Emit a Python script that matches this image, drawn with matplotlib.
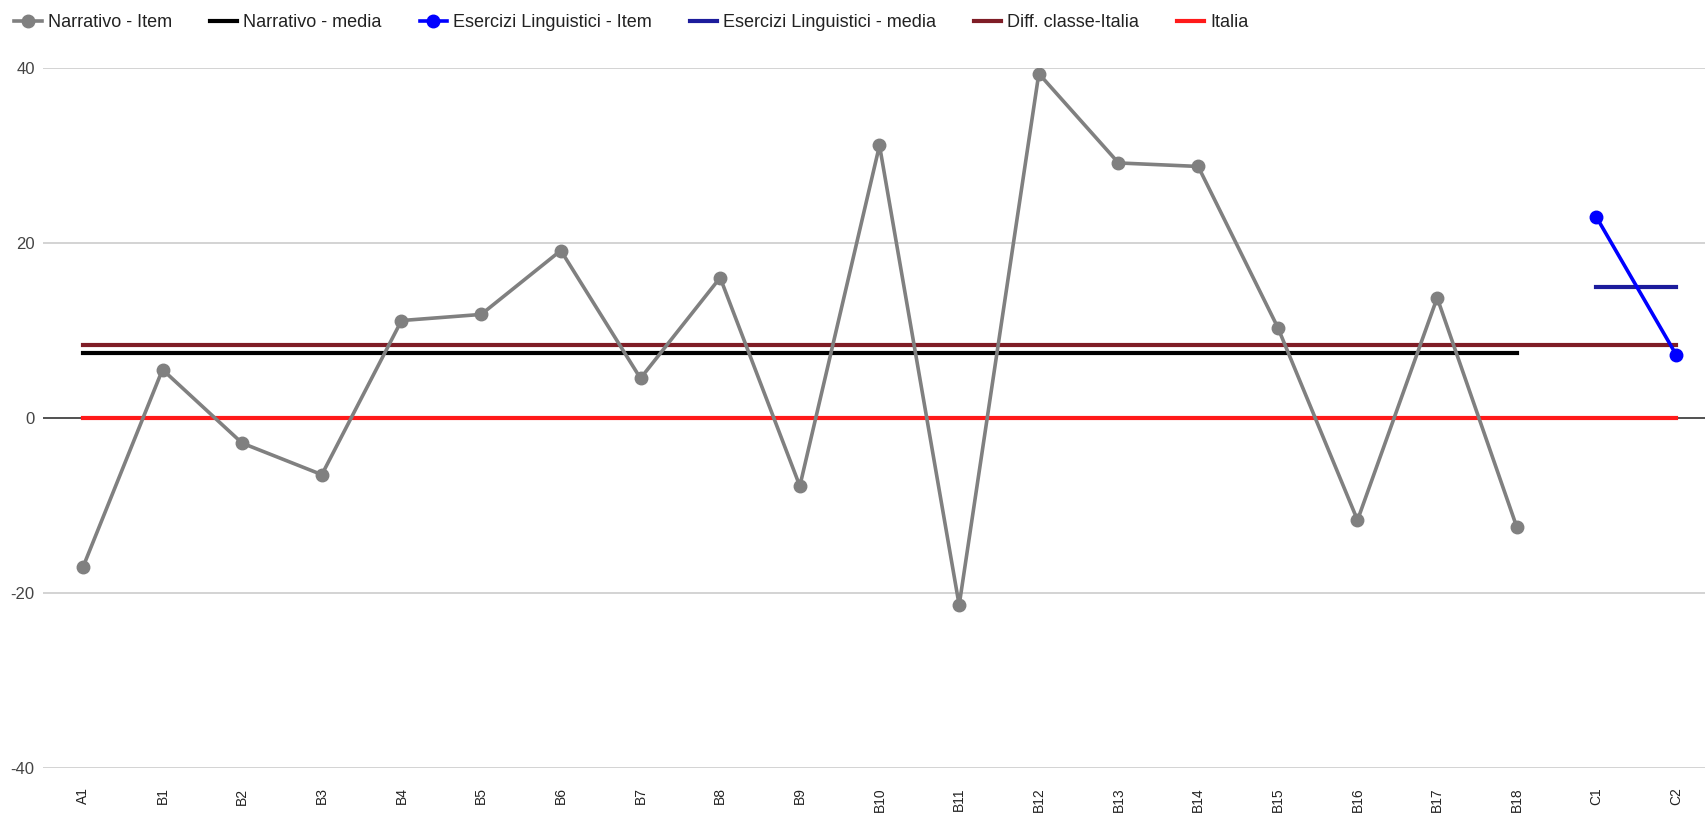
import matplotlib
matplotlib.use("Agg")
import matplotlib.pyplot as plt
import numpy as np

plt.rcParams['font.family'] = ['Liberation Sans', 'DejaVu Sans']

# categories
items = ["A1", "B1", "B2", "B3", "B4", "B5", "B6", "B7", "B8", "B9", "B10",
         "B11", "B12", "B13", "B14", "B15", "B16", "B17", "B18", "C1", "C2"]

# Narrativo - Item (A1..B18)
narrativo = [-17.1, 5.5, -2.9, -6.5, 11.1, 11.8, 19.1, 4.5, 16.0, -7.8, 31.1,
             -21.4, 39.3, 29.1, 28.7, 10.3, -11.7, 13.7, -12.5]
narrativo_media = 7.4

# Esercizi Linguistici - Item (C1, C2)
esercizi = [22.9, 7.2]
esercizi_media = 14.9

diff_classe_italia = 8.3
italia = 0

x = np.arange(len(items))
n_narr = len(narrativo)
x_narr = x[:n_narr]
x_eser = x[n_narr:]

fig = plt.figure(figsize=(17.06, 8.19), dpi=100)
ax = fig.add_axes([43 / 1706, 1 - 768 / 819, 1673 / 1706, (768 - 67.5) / 819])

# grid + baseline
for v in [-40, -20, 20, 40]:
    ax.axhline(v, color="#cccccc", lw=1.2, zorder=0)
ax.axhline(0, color="#333333", lw=1.2, zorder=0)

ax.plot(x_narr, narrativo, color="#808080", lw=2.6, marker="o", ms=9,
        label="Narrativo - Item", zorder=5)
ax.plot([x_narr[0], x_narr[-1]], [narrativo_media] * 2, color="black", lw=3,
        label="Narrativo - media", zorder=4)
ax.plot(x_eser, esercizi, color="#0000ff", lw=2.6, marker="o", ms=9,
        label="Esercizi Linguistici - Item", zorder=5)
ax.plot([x_eser[0], x_eser[-1]], [esercizi_media] * 2, color="#1c1c9c", lw=3,
        label="Esercizi Linguistici - media", zorder=4)
ax.plot([x[0], x[-1]], [diff_classe_italia] * 2, color="#7f1d26", lw=3,
        label="Diff. classe-Italia", zorder=3)
ax.plot([x[0], x[-1]], [italia] * 2, color="#ff1a1a", lw=3,
        label="Italia", zorder=3)

ax.set_xlim(-0.5, 20.5)
ax.set_ylim(-40, 40)
ax.set_yticks([-40, -20, 0, 20, 40])
ax.set_yticklabels(["-40", "-20", "0", "20", "40"], fontsize=12, color="#444444")
ax.set_xticks(x)
ax.set_xticklabels(items, rotation=90, fontsize=10, color="#222222")
ax.tick_params(axis="both", length=0)
ax.tick_params(axis="x", pad=14)
ax.tick_params(axis="y", pad=6)
for s in ax.spines.values():
    s.set_visible(False)

fig.legend(loc="upper left", bbox_to_anchor=(0.0, 1.0), ncol=6, frameon=False,
           prop={'size': 13}, handlelength=1.5, columnspacing=2.1,
           handletextpad=0.35, borderaxespad=0.4, labelcolor="#222222")

fig.savefig("out.png", dpi=100)
